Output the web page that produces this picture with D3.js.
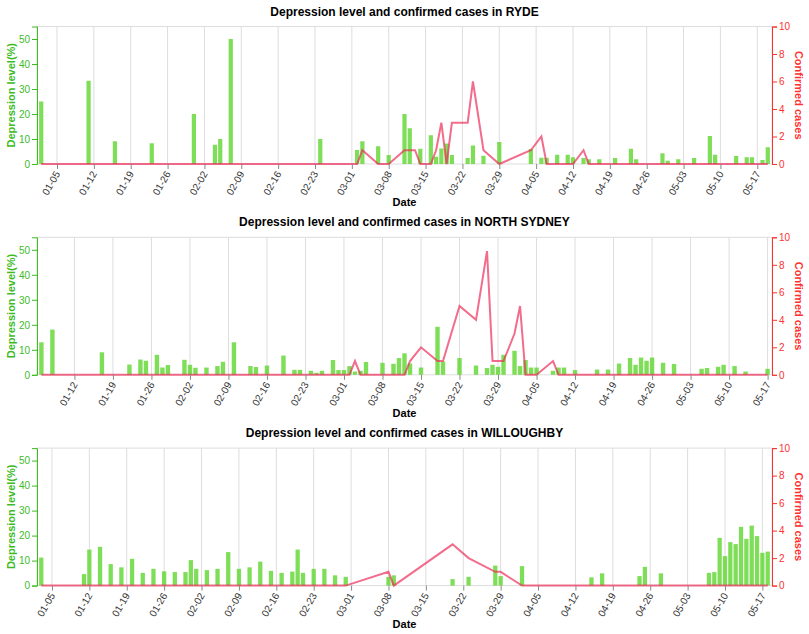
<!DOCTYPE html>
<html>
<head>
<meta charset="utf-8">
<script src="https://cdn.jsdelivr.net/npm/d3@7"></script>
<style>
  body { margin: 0; background: #fff; }
  text { font-family: "Liberation Sans", Arial, sans-serif; }
</style>
</head>
<body>
<div id="chart"></div>
<script>
// ---- data (2020) ----
const rydeDates = ["01-02","01-11","01-16","01-23","01-31","02-04","02-05","02-07","02-24",
  "03-02","03-03","03-06","03-08","03-11","03-12","03-13","03-14","03-16","03-17","03-18","03-19","03-20","03-23","03-24","03-26","03-29",
  "04-04","04-06","04-07","04-09","04-11","04-12","04-14","04-15","04-17","04-20","04-23","04-24","04-29","04-30",
  "05-02","05-05","05-08","05-09","05-13","05-15","05-16","05-18","05-19"];
const rydeDepression = [25, 33.3, 9.1, 8.3, 20, 7.7, 10, 50, 10,
  5.6, 9.1, 7.1, 3.6, 20, 14.3, 0, 6.1, 11.5, 2.9, 6.2, 8.2, 3.6, 2.4, 7.4, 3.3, 8.8,
  6, 2.5, 2.5, 3.7, 3.7, 2.7, 2.4, 1.9, 1.9, 2.4, 6.1, 1.9, 4.3, 1.3,
  1.9, 2.4, 11.2, 3.7, 3.2, 2.7, 2.7, 1.6, 6.7];
const rydeCases = [0, 0, 0, 0, 0, 0, 0, 0, 0,
  0, 1, 0, 0, 1, 1, 1, 0, 0, 1, 3, 0, 3, 3, 6, 1, 0,
  1, 2, 0, 0, 0, 0, 1, 0, 0, 0, 0, 0, 0, 0,
  0, 0, 0, 0, 0, 0, 0, 0, 0];

const northDates = ["01-06","01-08","01-17","01-22","01-24","01-25","01-27","01-28","01-29",
  "02-01","02-02","02-03","02-05","02-07","02-08","02-10","02-13","02-14","02-16","02-19","02-21","02-22","02-24","02-25","02-26","02-28","02-29",
  "03-01","03-02","03-03","03-04","03-05","03-08","03-10","03-11","03-12","03-13","03-15","03-18","03-19","03-22","03-25","03-27","03-28","03-29","03-30",
  "04-01","04-02","04-03","04-04","04-05","04-08","04-09","04-10","04-12","04-16","04-18","04-20","04-22","04-23","04-24","04-25","04-26","04-28","04-30",
  "05-05","05-06","05-08","05-09","05-11","05-13","05-17"];
const northDepression = [13, 18.1, 9, 4.1, 6.1, 5.6, 8, 2.9, 3.9,
  6, 4, 2.8, 2.9, 3.5, 5.2, 13, 3.5, 3.1, 3.7, 7.7, 2, 2, 1.6, 0.8, 1.6, 5.9, 1.9,
  1.9, 3.5, 1.3, 1.6, 5.1, 4.8, 4.4, 6.7, 8.6, 4.5, 2.9, 19.2, 5.3, 6.7, 3.7, 2.7, 4, 3.2, 8,
  9.6, 3.5, 5.9, 2.9, 2.9, 1.6, 2.9, 2.9, 1.9, 2.1, 2.1, 4.5, 6.7, 4, 6.9, 5.6, 6.9, 4.8, 4.3,
  2.4, 2.7, 3.2, 4, 3.5, 1.3, 2.4];
const northCases = [0, 0, 0, 0, 0, 0, 0, 0, 0,
  0, 0, 0, 0, 0, 0, 0, 0, 0, 0, 0, 0, 0, 0, 0, 0, 0, 0,
  0, 0, 1, 0, 0, 0, 0, 0, 0, 1, 2, 1, 1, 5, 4, 9, 1, 1, 1,
  3, 5, 0, 0, 0, 1, 0, 0, 0, 0, 0, 0, 0, 0, 0, 0, 0, 0, 0,
  0, 0, 0, 0, 0, 0, 0];

const willDates = ["01-03","01-11","01-12","01-14","01-16","01-18","01-20","01-22","01-24","01-26","01-28","01-30","01-31",
  "02-01","02-03","02-05","02-07","02-09","02-11","02-13","02-15","02-17","02-19","02-20","02-21","02-23","02-25","02-27","02-29",
  "03-08","03-09","03-20","03-23","03-28","03-29",
  "04-02","04-15","04-17","04-24","04-25","04-28",
  "05-07","05-08","05-09","05-10","05-11","05-12","05-13","05-14","05-15","05-16","05-17","05-18"];
const willDepression = [11.2, 4.6, 14.4, 15.5, 8.6, 7.3, 10.7, 5.1, 6.7, 5.7, 5.4, 5.4, 10.2,
  6.7, 6.2, 6.7, 13.4, 6.7, 7.3, 9.6, 5.9, 5.1, 5.6, 14.4, 5.1, 6.7, 6.7, 4.1, 3.5,
  3.5, 4.1, 2.6, 3.5, 8, 3.8,
  7.8, 3.3, 4.9, 3.8, 7.5, 4.9,
  5.1, 5.4, 19.1, 11.8, 17.4, 16.6, 23.5, 18.7, 24, 19.8, 13.1, 13.6];
const willCases = [0, 0, 0, 0, 0, 0, 0, 0, 0, 0, 0, 0, 0,
  0, 0, 0, 0, 0, 0, 0, 0, 0, 0, 0, 0, 0, 0, 0, 0,
  1, 0, 3, 2, 1, 1,
  0, 0, 0, 0, 0, 0,
  0, 0, 0, 0, 0, 0, 0, 0, 0, 0, 0, 0];

const regions = ["RYDE", "NORTH SYDNEY", "WILLOUGHBY"];
const leftTicks = [0, 10, 20, 30, 40, 50];
const rightTicks = [0, 2, 4, 6, 8, 10];

const panels = [
  { name: regions[0], dates: rydeDates, dep: rydeDepression, cases: rydeCases },
  { name: regions[1], dates: northDates, dep: northDepression, cases: northCases },
  { name: regions[2], dates: willDates, dep: willDepression, cases: willCases }
];

// ---- layout ----
const W = 809, H = 634;
const left = 37, right = 772;
const step = 210.8;
const dayMs = 864e5;
const green = "#3dbb1f", red = "#ff3030";
const parse = d3.timeParse("%Y-%m-%d");

const svg = d3.select("#chart").append("svg")
  .attr("width", W).attr("height", H);

panels.forEach((p, i) => {
  const top = 26.5 + i * step, bottom = 164 + i * step;
  const rows = p.dates.map((d, k) => ({ date: parse("2020-" + d), dep: p.dep[k], cases: p.cases[k] }));
  const first = rows[0].date, last = rows[rows.length - 1].date;

  const x = d3.scaleTime()
    .domain([new Date(+first - 0.8 * dayMs), new Date(+last + 0.8 * dayMs)])
    .range([left, right]);
  const yL = d3.scaleLinear().domain([0, 55]).range([bottom, top]);
  const yR = d3.scaleLinear().domain([0, 10]).range([bottom, top]);
  const weeks = x.ticks(d3.timeSunday);
  const dayPx = x(new Date(+first + dayMs)) - x(first);
  const bw = dayPx * 0.8;

  const g = svg.append("g");

  // view border + vertical grid
  g.append("rect")
    .attr("x", left).attr("y", top)
    .attr("width", right - left).attr("height", bottom - top)
    .attr("fill", "none").attr("stroke", "#ddd");
  g.append("g").selectAll("line").data(weeks).enter().append("line")
    .attr("x1", d => x(d)).attr("x2", d => x(d))
    .attr("y1", top).attr("y2", bottom)
    .attr("stroke", "#ddd");

  // bars
  g.append("g").selectAll("rect").data(rows).enter().append("rect")
    .attr("x", d => x(d.date) - bw / 2)
    .attr("y", d => yL(d.dep))
    .attr("width", bw)
    .attr("height", d => bottom - yL(d.dep))
    .attr("fill", "#5ed62e")
    .attr("fill-opacity", 0.8);

  // cases line
  const line = d3.line().x(d => x(d.date)).y(d => yR(d.cases));
  g.append("path")
    .datum(rows)
    .attr("d", line)
    .attr("fill", "none")
    .attr("stroke", "#ec2d5a")
    .attr("stroke-opacity", 0.7)
    .attr("stroke-width", 2);

  // x axis
  const xAxis = g.append("g")
    .attr("transform", "translate(0," + bottom + ")")
    .call(d3.axisBottom(x).tickValues(weeks).tickFormat(d3.timeFormat("%m-%d")).tickSizeOuter(0).tickSize(5));
  xAxis.select(".domain").remove();
  xAxis.selectAll(".tick line").attr("stroke", "#888");
  xAxis.selectAll(".tick text")
    .attr("x", 0).attr("y", 0).attr("dy", "0.35em")
    .attr("text-anchor", "end")
    .attr("transform", "translate(0,8) rotate(-60)")
    .attr("fill", "#333")
    .style("font-size", "10px");

  // left axis
  const yAxisL = g.append("g")
    .attr("transform", "translate(" + left + ",0)")
    .call(d3.axisLeft(yL).tickValues(leftTicks).tickSizeOuter(0).tickSize(5).tickPadding(2));
  yAxisL.select(".domain").attr("stroke", green);
  yAxisL.selectAll(".tick line").attr("stroke", green);
  yAxisL.selectAll(".tick text").attr("fill", green).style("font-size", "10px");

  // right axis
  const yAxisR = g.append("g")
    .attr("transform", "translate(" + right + ",0)")
    .call(d3.axisRight(yR).tickValues(rightTicks).tickSizeOuter(0).tickSize(5).tickPadding(2));
  yAxisR.select(".domain").attr("stroke", red);
  yAxisR.selectAll(".tick line").attr("stroke", red);
  yAxisR.selectAll(".tick text").attr("fill", red).style("font-size", "10px");

  // titles
  const mid = (top + bottom) / 2;
  g.append("text")
    .attr("transform", "translate(15," + mid + ") rotate(-90)")
    .attr("text-anchor", "middle")
    .attr("fill", green).attr("font-weight", "bold").style("font-size", "11px")
    .text("Depression level(%)");
  g.append("text")
    .attr("transform", "translate(794.5," + mid + ") rotate(90)")
    .attr("text-anchor", "middle")
    .attr("fill", red).attr("font-weight", "bold").style("font-size", "11px")
    .text("Confirmed cases");
  g.append("text")
    .attr("x", (left + right) / 2).attr("y", bottom + 42)
    .attr("text-anchor", "middle")
    .attr("fill", "#000").attr("font-weight", "bold").style("font-size", "11px")
    .text("Date");
  g.append("text")
    .attr("x", (left + right) / 2).attr("y", top - 11)
    .attr("text-anchor", "middle")
    .attr("fill", "#000").attr("font-weight", "bold").style("font-size", "12px")
    .text("Depression level and confirmed cases in " + p.name);
});
</script>
</body>
</html>
